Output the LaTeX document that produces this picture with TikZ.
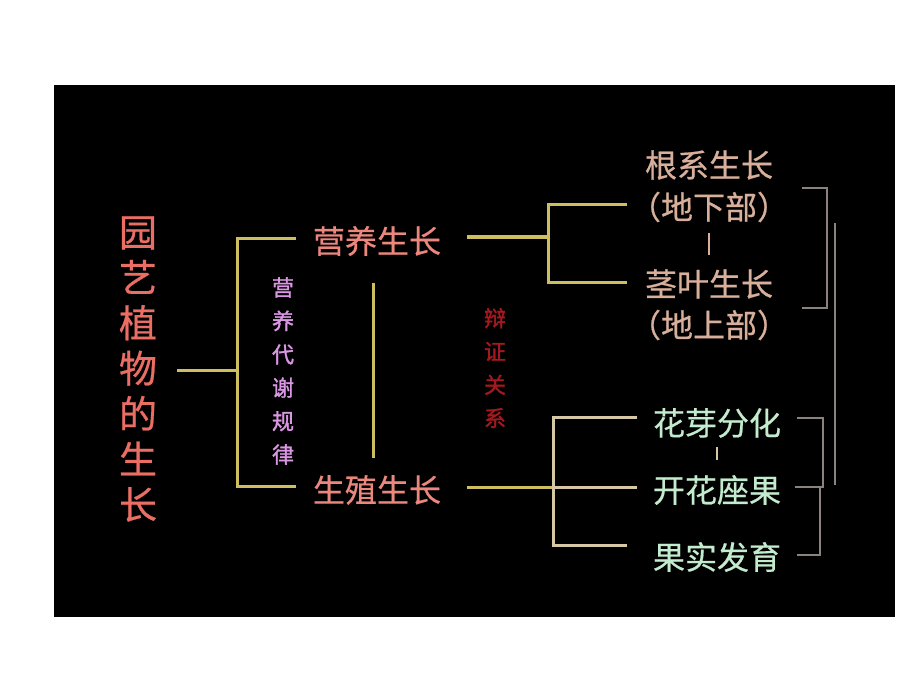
\documentclass[tikz,border=0pt]{standalone}
\usepackage{fontspec}
\newfontfamily\cjk{Noto Sans CJK SC}[FakeBold=0.6]
\newfontfamily\cjkb{Noto Sans CJK SC}[FakeBold=1.4]
\definecolor{titlecol}{RGB}{235,110,100}
\definecolor{growcol}{RGB}{235,135,125}
\definecolor{purplecol}{RGB}{220,150,230}
\definecolor{darkredcol}{RGB}{165,25,30}
\definecolor{tancol}{RGB}{215,175,155}
\definecolor{greencol}{RGB}{195,235,205}
\definecolor{yellowcol}{RGB}{205,190,95}
\definecolor{palecol}{RGB}{215,200,165}
\definecolor{greycol}{RGB}{140,130,125}
\begin{document}
\begin{tikzpicture}[x=1pt,y=-1pt,
  txt/.style={inner sep=0pt,align=center},
  yline/.style={draw=yellowcol,line width=3pt},
  pline/.style={draw=palecol,line width=3pt},
  gline/.style={draw=greycol,line width=2.5pt}]
\path[use as bounding box,fill=white] (0,0) rectangle (920,690);
\fill[black] (54,85) rectangle (895,617);

% texts
\node[txt,text=titlecol,font={\cjk\fontsize{38}{45.4}\selectfont}] (title) at (138,369)
  {园\\艺\\植\\物\\的\\生\\长};
\node[txt,text=growcol,font={\cjk\fontsize{32}{32}\selectfont}] (veg) at (377,241) {营养生长};
\node[txt,text=growcol,font={\cjk\fontsize{32}{32}\selectfont}] (rep) at (377,490) {生殖生长};
\node[txt,text=purplecol,font={\cjkb\fontsize{22}{33.4}\selectfont}] (meta) at (283,371)
  {营\\养\\代\\谢\\规\\律};
\node[txt,text=darkredcol,font={\cjkb\fontsize{22}{33.3}\selectfont}] (dial) at (495,368)
  {辩\\证\\关\\系};
\node[txt,text=tancol,font={\cjk\fontsize{32}{32}\selectfont}] (root) at (709,165) {根系生长};
\node[txt,text=tancol,font={\cjk\fontsize{32}{32}\selectfont}] (rootsub) at (709,207) {（地下部）};
\node[txt,text=tancol,font={\cjk\fontsize{32}{32}\selectfont}] (stem) at (709,284) {茎叶生长};
\node[txt,text=tancol,font={\cjk\fontsize{32}{32}\selectfont}] (stemsub) at (709,325) {（地上部）};
\node[txt,text=greencol,font={\cjk\fontsize{32}{32}\selectfont}] (flbud) at (717,423) {花芽分化};
\node[txt,text=greencol,font={\cjk\fontsize{32}{32}\selectfont}] (bloom) at (717,490) {开花座果};
\node[txt,text=greencol,font={\cjk\fontsize{32}{32}\selectfont}] (fruit) at (717,557) {果实发育};

% left bracket
\coordinate (t0) at (177,370);
\coordinate (b1) at (237,370);
\coordinate (b1t) at (237,238);
\coordinate (b1b) at (237,486);
\coordinate (vegL) at (296,238);
\coordinate (repL) at (296,486);
\draw[yline] (t0) -- (b1);
\draw[yline] (vegL) -- (b1t) -- (b1b) -- (repL);
% middle vertical
\coordinate (m1) at (373,283);
\coordinate (m2) at (373,458);
\draw[yline] (m1) -- (m2);

% upper right bracket
\coordinate (vegR) at (467,237);
\coordinate (b2) at (548,237);
\coordinate (b2t) at (548,204);
\coordinate (b2b) at (548,282);
\coordinate (rootL) at (627,204);
\coordinate (stemL) at (627,282);
\draw[yline,line width=4pt] (vegR) -- (b2);
\draw[yline] (rootL) -- (b2t) -- (b2b) -- (stemL);
\draw[draw=tancol,line width=1.5pt] (709,233) -- (709,255);

% lower right bracket
\coordinate (repR) at (467,487);
\coordinate (b3) at (553,487);
\coordinate (b3t) at (553,417);
\coordinate (b3b) at (553,545);
\coordinate (flL) at (637,417);
\coordinate (blL) at (637,487);
\coordinate (frL) at (627,545);
\draw[yline] (repR) -- (b3);
\draw[pline] (b3) -- (blL);
\draw[pline] (flL) -- (b3t) -- (b3b) -- (frL);
\draw[draw=palecol,line width=1.5pt] (717,447) -- (717,460);

% grey brackets on the right
\draw[gline] (802,188) -- (827,188) -- (827,308) -- (802,308);
\draw[gline] (835,223) -- (835,485);
\draw[gline] (797,418) -- (823,418) -- (823,487) -- (795,487);
\draw[gline] (820,487) -- (820,555) -- (797,555);
\end{tikzpicture}
\end{document}
